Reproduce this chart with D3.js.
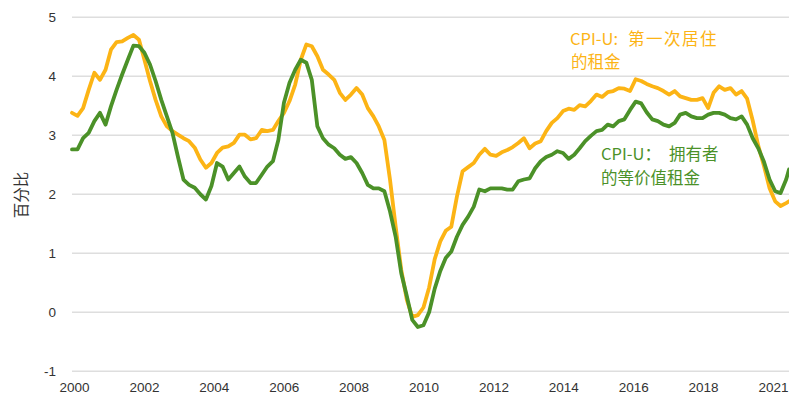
<!DOCTYPE html>
<html><head><meta charset="utf-8">
<script src="https://cdn.jsdelivr.net/npm/d3@7"></script>
<style>
html,body{margin:0;padding:0;background:#fff;}
svg{display:block;}
</style></head>
<body>
<svg id="chart" width="789" height="404"></svg>
<script>
// Bimonthly observations (Jan 2000 – Jun 2021)
const dates = [
"2000-01","2000-03","2000-05","2000-07","2000-09","2000-11",
"2001-01","2001-03","2001-05","2001-07","2001-09","2001-11",
"2002-01","2002-03","2002-05","2002-07","2002-09","2002-11",
"2003-01","2003-03","2003-05","2003-07","2003-09","2003-11",
"2004-01","2004-03","2004-05","2004-07","2004-09","2004-11",
"2005-01","2005-03","2005-05","2005-07","2005-09","2005-11",
"2006-01","2006-03","2006-05","2006-07","2006-09","2006-11",
"2007-01","2007-03","2007-05","2007-07","2007-09","2007-11",
"2008-01","2008-03","2008-05","2008-07","2008-09","2008-11",
"2009-01","2009-03","2009-05","2009-07","2009-09","2009-11",
"2010-01","2010-03","2010-05","2010-07","2010-09","2010-11",
"2011-01","2011-03","2011-05","2011-07","2011-09","2011-11",
"2012-01","2012-03","2012-05","2012-07","2012-09","2012-11",
"2013-01","2013-03","2013-05","2013-07","2013-09","2013-11",
"2014-01","2014-03","2014-05","2014-07","2014-09","2014-11",
"2015-01","2015-03","2015-05","2015-07","2015-09","2015-11",
"2016-01","2016-03","2016-05","2016-07","2016-09","2016-11",
"2017-01","2017-03","2017-05","2017-07","2017-09","2017-11",
"2018-01","2018-03","2018-05","2018-07","2018-09","2018-11",
"2019-01","2019-03","2019-05","2019-07","2019-09","2019-11",
"2020-01","2020-03","2020-05","2020-07","2020-09","2020-11",
"2021-01","2021-03","2021-05","2021-06"
];

// CPI-U: Rent of primary residence (YoY %)
const rentPrimary = [
3.38,3.33,3.46,3.77,4.06,3.94,
4.11,4.45,4.58,4.59,4.65,4.70,
4.62,4.28,3.92,3.60,3.32,3.15,
3.07,3.01,2.95,2.90,2.79,2.59,
2.45,2.53,2.70,2.79,2.81,2.87,
3.01,3.01,2.93,2.95,3.09,3.07,
3.09,3.24,3.38,3.58,3.86,4.28,
4.54,4.51,4.34,4.11,4.03,3.94,
3.72,3.60,3.69,3.80,3.69,3.46,
3.32,3.15,2.92,2.25,1.45,0.72,
0.21,-0.08,-0.05,0.08,0.42,0.90,
1.20,1.38,1.45,1.96,2.39,2.46,
2.53,2.67,2.77,2.67,2.65,2.71,
2.75,2.80,2.87,2.95,2.78,2.86,
2.90,3.07,3.21,3.29,3.41,3.45,
3.43,3.51,3.49,3.58,3.69,3.65,
3.73,3.75,3.80,3.79,3.75,3.95,
3.92,3.87,3.83,3.80,3.75,3.69,
3.75,3.66,3.63,3.60,3.60,3.63,
3.46,3.72,3.83,3.77,3.80,3.69,
3.75,3.62,3.25,2.82,2.48,2.10,
1.88,1.80,1.85,1.88
];

// CPI-U: Owners' equivalent rent (YoY %)
const ownersEquivRent = [
2.76,2.76,2.95,3.04,3.24,3.38,
3.18,3.49,3.77,4.03,4.28,4.52,
4.51,4.40,4.20,3.92,3.60,3.32,
3.04,2.64,2.25,2.16,2.11,2.00,
1.91,2.14,2.53,2.47,2.25,2.36,
2.47,2.30,2.19,2.19,2.33,2.47,
2.56,2.92,3.55,3.89,4.11,4.28,
4.23,3.94,3.15,2.95,2.84,2.78,
2.67,2.60,2.63,2.53,2.36,2.16,
2.10,2.10,2.05,1.71,1.28,0.66,
0.27,-0.13,-0.25,-0.22,0.00,0.40,
0.70,0.92,1.03,1.28,1.48,1.62,
1.79,2.08,2.05,2.10,2.10,2.10,
2.08,2.08,2.22,2.25,2.27,2.44,
2.56,2.63,2.67,2.73,2.70,2.60,
2.67,2.78,2.90,2.99,3.07,3.09,
3.18,3.15,3.24,3.27,3.43,3.57,
3.54,3.39,3.27,3.24,3.18,3.15,
3.21,3.35,3.38,3.32,3.29,3.29,
3.35,3.38,3.38,3.35,3.29,3.27,
3.32,3.18,2.95,2.78,2.55,2.25,
2.05,2.02,2.25,2.42
];

const xTickLabels = ["2000","2002","2004","2006","2008","2010","2012","2014","2016","2018","2021"];
const yTicks = [-1,0,1,2,3,4,5];

const parse = d3.timeParse("%Y-%m");
const rows = dates.map((d,i)=>({date:parse(d), rent:rentPrimary[i], oer:ownersEquivRent[i]}));

const svg = d3.select("#chart");
const plotLeft = 72, plotRight = 789, plotTop = 17.3, plotBottom = 371.2;

const x = d3.scaleTime().domain([parse("2000-01"), parse("2021-06")]).range([plotLeft, plotRight]);
const y = d3.scaleLinear().domain([-1,5]).range([plotBottom, plotTop]);
const xLab = d3.scalePoint().domain(xTickLabels).range([74, 773]);

// gridlines
svg.append("g").selectAll("line").data(yTicks).join("line")
  .attr("x1", plotLeft).attr("x2", plotRight)
  .attr("y1", d=>y(d)).attr("y2", d=>y(d))
  .attr("stroke", "#dedede").attr("stroke-width", 1.4);

// y axis labels
const yAxis = svg.append("g").attr("transform", `translate(${plotLeft},0)`)
  .call(d3.axisLeft(y).tickValues(yTicks).tickSize(0).tickPadding(16).tickFormat(d => String(d)));
yAxis.select(".domain").remove();
yAxis.selectAll("text").attr("font-family","'Liberation Sans', Arial, sans-serif")
  .attr("font-size", 13.5).attr("fill", "#333");

// x axis labels
const xAxis = svg.append("g").attr("transform", `translate(0,${plotBottom})`)
  .call(d3.axisBottom(xLab).tickSize(0).tickPadding(11));
xAxis.select(".domain").remove();
xAxis.selectAll("text").attr("font-family","'Liberation Sans', Arial, sans-serif")
  .attr("font-size", 13.5).attr("fill", "#333");

// y title
svg.append("text")
  .attr("transform", "translate(27,195) rotate(-90)")
  .attr("text-anchor", "middle")
  .attr("font-family", "'Noto Sans CJK SC', sans-serif")
  .attr("font-size", 15.5).attr("fill", "#333")
  .text("百分比");

const orange = "#fcb415", green = "#4b9128";

const lineRent = d3.line().x(d=>x(d.date)).y(d=>y(d.rent));
const lineOer = d3.line().x(d=>x(d.date)).y(d=>y(d.oer));

svg.append("path").datum(rows).attr("d", lineRent)
  .attr("fill","none").attr("stroke", orange).attr("stroke-width", 3.8)
  .attr("stroke-linejoin","round").attr("stroke-linecap","round");
svg.append("path").datum(rows).attr("d", lineOer)
  .attr("fill","none").attr("stroke", green).attr("stroke-width", 3.8)
  .attr("stroke-linejoin","round").attr("stroke-linecap","round");

// annotations
const font = "'Noto Sans CJK SC', 'Noto Sans', sans-serif";
const a1 = svg.append("text").attr("font-family", font).attr("font-size", 16.5).attr("fill", orange);
a1.append("tspan").attr("x", 570).attr("y", 45).text("CPI-U: ");
a1.append("tspan").attr("x", 628).attr("y", 45).attr("letter-spacing", 1.5).text("第一次居住");
a1.append("tspan").attr("x", 571).attr("y", 68).text("的租金");

const a2 = svg.append("text").attr("font-family", font).attr("font-size", 16.5).attr("fill", green);
a2.append("tspan").attr("x", 601).attr("y", 160).text("CPI-U：");
a2.append("tspan").attr("x", 669).attr("y", 160).text("拥有者");
a2.append("tspan").attr("x", 601).attr("y", 184).text("的等价值租金");
</script>
</body></html>
